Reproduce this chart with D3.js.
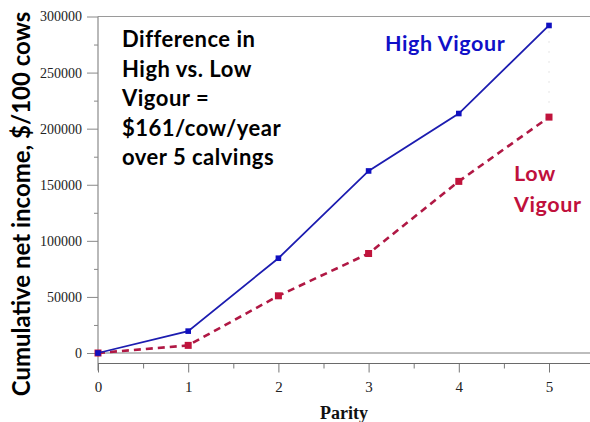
<!DOCTYPE html>
<html>
<head>
<meta charset="utf-8">
<script src="https://cdn.jsdelivr.net/npm/d3@7"></script>
<style>
  body { margin: 0; background: #fff; }
  svg { display: block; }
</style>
</head>
<body>
<svg id="chart" width="590" height="422"></svg>
<script>
// values
var parity = [0, 1, 2, 3, 4, 5];
var highVigour = [0, 19500, 84500, 162300, 213500, 292000];
var lowVigour = [0, 6800, 51000, 88700, 153000, 210300];
var yTicks = [0, 50000, 100000, 150000, 200000, 250000, 300000];
var noteLines = ['Difference in', 'High vs. Low', 'Vigour =', '$161/cow/year', 'over 5 calvings'];

var svg = d3.select('#chart');
var plotLeft = 98, plotRight = 590, plotTop = 16.5, axisY = 363.5;

var x = d3.scaleLinear().domain([0, 5]).range([plotLeft, 549]);
var y = d3.scaleLinear().domain([0, 300000]).range([353, plotTop]);

// top frame line
svg.append('line')
    .attr('x1', plotLeft).attr('x2', plotRight).attr('y1', plotTop).attr('y2', plotTop)
    .attr('stroke', '#9a9a9a').attr('stroke-width', 1);

// y axis, minor ticks first
var yMinor = d3.axisLeft(y).tickValues(d3.range(25000, 300000, 50000))
    .tickSize(4).tickFormat('');
svg.append('g').attr('transform', 'translate(' + plotLeft + ',0)').call(yMinor)
    .call(function(g) { g.select('.domain').remove(); })
    .selectAll('line').attr('stroke', '#888');

var yAxis = d3.axisLeft(y).tickValues(yTicks).tickSize(11).tickPadding(5)
    .tickFormat(d3.format('d'));
var gy = svg.append('g').attr('transform', 'translate(' + plotLeft + ',0)').call(yAxis);
gy.select('.domain').remove();
gy.selectAll('line').attr('stroke', '#888');
gy.selectAll('text')
    .attr('font-family', '"Liberation Serif", serif')
    .attr('font-size', 14).attr('fill', '#222');
svg.append('line')
    .attr('x1', plotLeft).attr('x2', plotLeft).attr('y1', plotTop).attr('y2', axisY + 7)
    .attr('stroke', '#8a8a8a').attr('stroke-width', 1.2);

// zero line
svg.append('line')
    .attr('x1', plotLeft).attr('x2', plotRight).attr('y1', y(0)).attr('y2', y(0))
    .attr('stroke', '#bdbdbd').attr('stroke-width', 2);

// x axis
var xMinor = d3.axisBottom(x).tickValues(d3.range(0.5, 6, 1)).tickSize(5).tickFormat('');
svg.append('g').attr('transform', 'translate(0,' + axisY + ')').call(xMinor)
    .call(function(g) { g.select('.domain').remove(); })
    .selectAll('line').attr('stroke', '#777');
var xAxis = d3.axisBottom(x).tickValues(parity).tickSize(9).tickPadding(9)
    .tickFormat(d3.format('d'));
var gx = svg.append('g').attr('transform', 'translate(0,' + axisY + ')').call(xAxis);
gx.select('.domain').remove();
gx.selectAll('line').attr('stroke', '#777');
gx.selectAll('text')
    .attr('font-family', '"Liberation Serif", serif')
    .attr('font-size', 15).attr('fill', '#222');
svg.append('line')
    .attr('x1', plotLeft).attr('x2', plotRight).attr('y1', axisY).attr('y2', axisY)
    .attr('stroke', '#6a6a6a').attr('stroke-width', 1.2);

// faint dotted artefact at parity 5
svg.append('line')
    .attr('x1', x(5)).attr('x2', x(5)).attr('y1', y(highVigour[5]) + 6).attr('y2', y(lowVigour[5]) - 10)
    .attr('stroke', '#ccc').attr('stroke-width', 1).attr('stroke-dasharray', '1,9');

// series
var line = d3.line()
    .x(function(d, i) { return x(parity[i]); })
    .y(function(d) { return y(d); });

svg.append('path').datum(lowVigour)
    .attr('d', line).attr('fill', 'none')
    .attr('stroke', '#b01844').attr('stroke-width', 2.6)
    .attr('stroke-dasharray', '7,5');
svg.selectAll('rect.low').data(lowVigour).enter().append('rect')
    .attr('class', 'low')
    .attr('x', function(d, i) { return x(parity[i]) - 3.5; })
    .attr('y', function(d) { return y(d) - 3.5; })
    .attr('width', 7).attr('height', 7)
    .attr('fill', '#c0143c');

svg.append('path').datum(highVigour)
    .attr('d', line).attr('fill', 'none')
    .attr('stroke', '#1c1cb0').attr('stroke-width', 1.8);
svg.selectAll('rect.high').data(highVigour).enter().append('rect')
    .attr('class', 'high')
    .attr('x', function(d, i) { return x(parity[i]) - 2.8; })
    .attr('y', function(d) { return y(d) - 2.8; })
    .attr('width', 5.6).attr('height', 5.6)
    .attr('fill', '#1010c0');

// axis titles
svg.append('text')
    .attr('transform', 'translate(30,204) rotate(-90)')
    .attr('text-anchor', 'middle')
    .attr('font-family', 'Lato, sans-serif').attr('font-weight', 'bold')
    .attr('font-size', 24).attr('fill', '#000')
    .text('Cumulative net income, $/100 cows');

svg.append('text')
    .attr('x', (plotLeft + plotRight) / 2).attr('y', 419)
    .attr('text-anchor', 'middle')
    .attr('font-family', '"Liberation Serif", serif').attr('font-weight', 'bold')
    .attr('font-size', 18).attr('fill', '#111')
    .text('Parity');

// annotations
svg.append('g').selectAll('text').data(noteLines).enter().append('text')
    .attr('x', 122)
    .attr('y', function(d, i) { return 47 + i * 29.5; })
    .attr('font-family', 'Lato, sans-serif').attr('font-weight', 'bold')
    .attr('font-size', 22).attr('letter-spacing', 0.5).attr('fill', '#000')
    .text(function(d) { return d; });

svg.append('text')
    .attr('x', 385).attr('y', 51)
    .attr('font-family', 'Lato, sans-serif').attr('font-weight', 'bold')
    .attr('font-size', 21.5).attr('letter-spacing', 0.6).attr('fill', '#1010c8')
    .text('High Vigour');

svg.append('g').selectAll('text').data(['Low', 'Vigour']).enter().append('text')
    .attr('x', 514)
    .attr('y', function(d, i) { return 181 + i * 31; })
    .attr('font-family', 'Lato, sans-serif').attr('font-weight', 'bold')
    .attr('font-size', 21.5).attr('letter-spacing', 0.6).attr('fill', '#c0103c')
    .text(function(d) { return d; });
</script>
</body>
</html>
